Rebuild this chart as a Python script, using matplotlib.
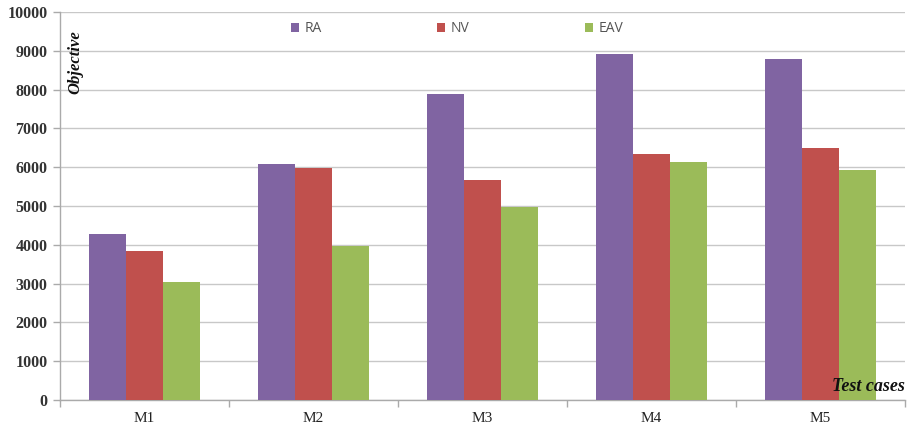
import matplotlib.pyplot as plt
import numpy as np
from matplotlib.patches import Patch

categories = ["M1", "M2", "M3", "M4", "M5"]
series_names = ["RA", "NV", "EAV"]
ra = [4280, 6090, 7880, 8910, 8780]
nv = [3830, 5970, 5680, 6330, 6500]
eav = [3040, 3960, 4970, 6140, 5920]
y_ticks = [0, 1000, 2000, 3000, 4000, 5000, 6000, 7000, 8000, 9000, 10000]

colors = ["#8064A2", "#C0504D", "#9BBB59"]
serif = ["Liberation Serif", "DejaVu Serif"]

fig = plt.figure(figsize=(9.10, 4.33), dpi=100)
ax = fig.add_axes([60 / 910, 33 / 433, 845 / 910, 388 / 433])

x = np.arange(len(categories))
w = 0.22
for i, (vals, c) in enumerate(zip([ra, nv, eav], colors)):
    ax.bar(x + (i - 1) * w, vals, width=w, color=c, zorder=3, linewidth=0)

ax.set_xlim(-0.5, len(categories) - 0.5)
ax.set_ylim(0, 10000)
ax.set_yticks(y_ticks)
ax.set_yticklabels([str(v) for v in y_ticks], fontfamily=serif,
                   fontweight="bold", fontsize=11.5, color="#333333")
ax.yaxis.grid(True, color="#C8C8C8", linewidth=1, zorder=0)

# category labels centred, tick marks on the group boundaries
ax.set_xticks(x)
ax.set_xticklabels(categories, fontfamily=serif, fontsize=11, color="#222222")
ax.tick_params(axis="x", length=0, pad=9)
ax.set_xticks(np.arange(-0.5, len(categories) + 0.5, 1), minor=True)
ax.tick_params(axis="x", which="minor", length=5, color="#AAAAAA", width=1)
ax.tick_params(axis="y", length=5, color="#AAAAAA", width=1, pad=4)

for s in ["top", "right"]:
    ax.spines[s].set_visible(False)
for s in ["left", "bottom"]:
    ax.spines[s].set_color("#AAAAAA")
    ax.spines[s].set_linewidth(1)

ax.text(0.018, 0.87, "Objective", transform=ax.transAxes, rotation=90,
        fontfamily=serif, fontstyle="italic", fontweight="bold",
        fontsize=12, ha="center", va="center", color="#111111")
ax.text(1.0, 0.035, "Test cases", transform=ax.transAxes,
        fontfamily=serif, fontstyle="italic", fontweight="bold",
        fontsize=13, ha="right", va="center", color="#111111", zorder=5)

handles = [Patch(facecolor=c, edgecolor="none") for c in colors]
fig.legend(handles, series_names, loc="center", ncol=3,
           bbox_to_anchor=(457 / 910, 1 - 29 / 433), frameon=False,
           handlelength=0.6, handleheight=0.6, handletextpad=0.4,
           columnspacing=8.3, prop={"family": "Open Sans", "size": 10},
           labelcolor="#555555")

fig.savefig("out.png", dpi=100)
